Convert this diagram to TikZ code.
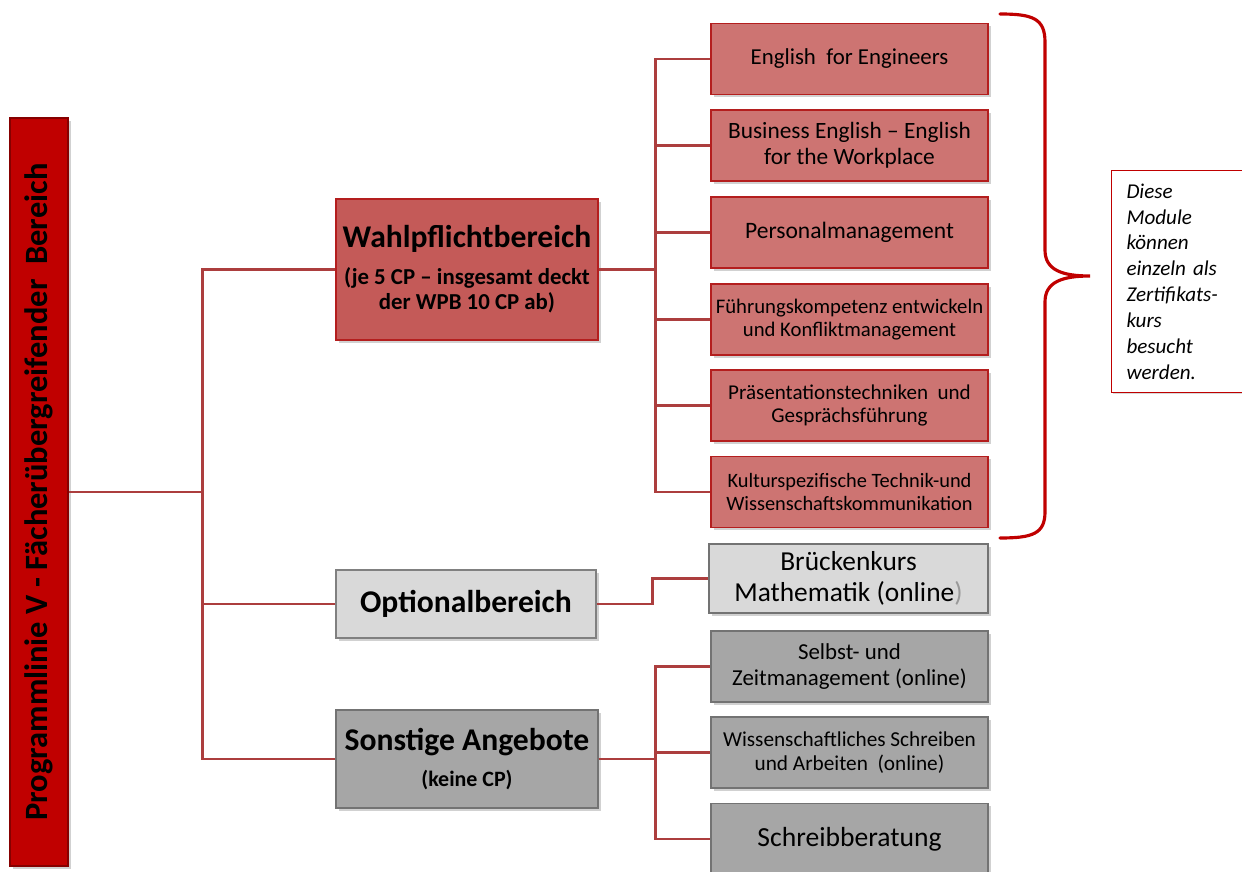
\documentclass[tikz,border=0pt]{standalone}
\usepackage{fontspec}
\setmainfont{Carlito}
\usetikzlibrary{shadows}

\definecolor{barred}{RGB}{192,0,0}
\definecolor{wpbred}{RGB}{196,90,88}
\definecolor{modred}{RGB}{205,116,114}
\definecolor{edgered}{RGB}{180,30,30}
\definecolor{linered}{RGB}{172,62,62}
\definecolor{lightgray}{RGB}{217,217,217}
\definecolor{midgray}{RGB}{166,166,166}

\newcommand{\fsz}[1]{\fontsize{#1}{1.12\dimexpr#1pt\relax}\selectfont}

\tikzset{
  box/.style={draw, line width=0.8pt, inner sep=2pt, align=center,
    drop shadow={shadow xshift=1.5pt, shadow yshift=-1.5pt, opacity=0.3, fill=black!60}},
  area/.style={box, minimum width=5.24cm},
  modbox/.style={box, fill=modred, draw=edgered, minimum width=5.54cm, minimum height=1.42cm},
  graybox/.style={box, fill=midgray, draw=black!55, minimum width=5.54cm, minimum height=1.42cm},
  conn/.style={draw=linered, line width=1.5pt},
}

\begin{document}
\begin{tikzpicture}[x=0.02cm, y=-0.02cm]
  \useasboundingbox (0,0) rectangle (1242,872);

  % left bar
  \node[box, fill=barred, draw=barred!70!black, minimum width=1.16cm, minimum height=14.96cm] (bar) at (39,492) {};
  \node[rotate=90, font=\bfseries\fsz{18.5}] (bartxt) at (bar.center) {Programmlinie V - Fächerübergreifender~ Bereich};

  % areas
  \node[area, fill=wpbred, draw=edgered, minimum height=2.82cm,
        font=\bfseries\fontsize{13}{14.7}\selectfont] (wpb) at (467,269.5)
    {{\fsz{18}Wahlpflichtbereich}\\[6pt]
     (je 5 CP -- insgesamt deckt\\
     der WPB 10 CP ab)};
  \node[area, fill=lightgray, draw=black!50, minimum width=5.2cm, minimum height=1.36cm] (opt) at (466,604)
    {\bfseries\fsz{18}Optionalbereich};
  \node[area, fill=midgray, draw=black!55, minimum height=1.96cm,
        font=\bfseries\fsz{12.5}] (sonst) at (467,759)
    {{\fsz{18}Sonstige Angebote}\\[7pt]
     (keine CP)};

  % modules
  \node[modbox, font=\fsz{13}] (m1) at (849.5,59) {English~ for Engineers};
  \node[modbox, font=\fsz{13.3}] (m2) at (849.5,145.5) {Business English -- English\\for the Workplace};
  \node[modbox, font=\fsz{13.4}] (m3) at (849.5,232.5) {Personalmanagement};
  \node[modbox, font=\fsz{11.8}] (m4) at (849.5,319.5) {Führungskompetenz entwickeln\\und Konfliktmanagement};
  \node[modbox, font=\fsz{12}] (m5) at (849.5,405.5) {Präsentationstechniken~ und\\Gesprächsführung};
  \node[modbox, font=\fsz{11.6}] (m6) at (849.5,492) {Kulturspezifische Technik-und\\Wissenschaftskommunikation};

  \node[box, fill=lightgray, draw=black!55, minimum width=5.58cm, minimum height=1.38cm, font=\fsz{15.6}] (brk) at (848.5,578.5)
    {Brückenkurs\\Mathematik (online{\color{black!40})}};
  \node[graybox, font=\fsz{13}] (sz) at (849.5,666.5) {Selbst- und\\Zeitmanagement (online)};
  \node[graybox, font=\fsz{12.1}] (wsa) at (849.5,752.5) {Wissenschaftliches Schreiben\\und Arbeiten~ (online)};
  \node[graybox, font=\fsz{15.7}] (sb) at (849.5,839) {Schreibberatung};

  % connectors
  \draw[conn] (bar.east) -- (203,492);
  \draw[conn] (wpb.west) -- ++(-133,0) |- (sonst.west);
  \draw[conn] (opt.west) -- ++(-133,0);
  \foreach \m in {m1,m2,m3,m4,m5,m6}
    \draw[conn] (wpb.east) -- ++(57,0) |- (\m.west);
  \draw[conn] (opt.east) -- ++(56,0) |- (brk.west);
  \foreach \m in {sz,wsa,sb}
    \draw[conn] (sonst.east) -- ++(57,0) |- (\m.west);

  % brace and note
  \draw[barred, line width=1.8pt, line cap=round]
    (1000,14) .. controls (1032,14) and (1045,18) .. (1045,42) -- (1045,250)
    .. controls (1045,270) and (1062,276) .. (1090,276)
    .. controls (1062,276) and (1045,282) .. (1045,302) -- (1045,512)
    .. controls (1045,534) and (1032,538) .. (1000,538);
  \node[draw=barred, fill=white, line width=0.6pt, anchor=north west, minimum width=2.9cm,
        minimum height=4.44cm, inner xsep=0.19cm, text width=2.3cm, align=left,
        font=\itshape\fontsize{12}{14.7}\selectfont,
        drop shadow={shadow xshift=1pt, shadow yshift=-1pt, opacity=0.25, fill=black!60}] (note) at (1111,170)
    {Diese\\Module\\können\\einzeln als\\Zertifikats-\\kurs\\besucht\\werden.};
\end{tikzpicture}
\end{document}
